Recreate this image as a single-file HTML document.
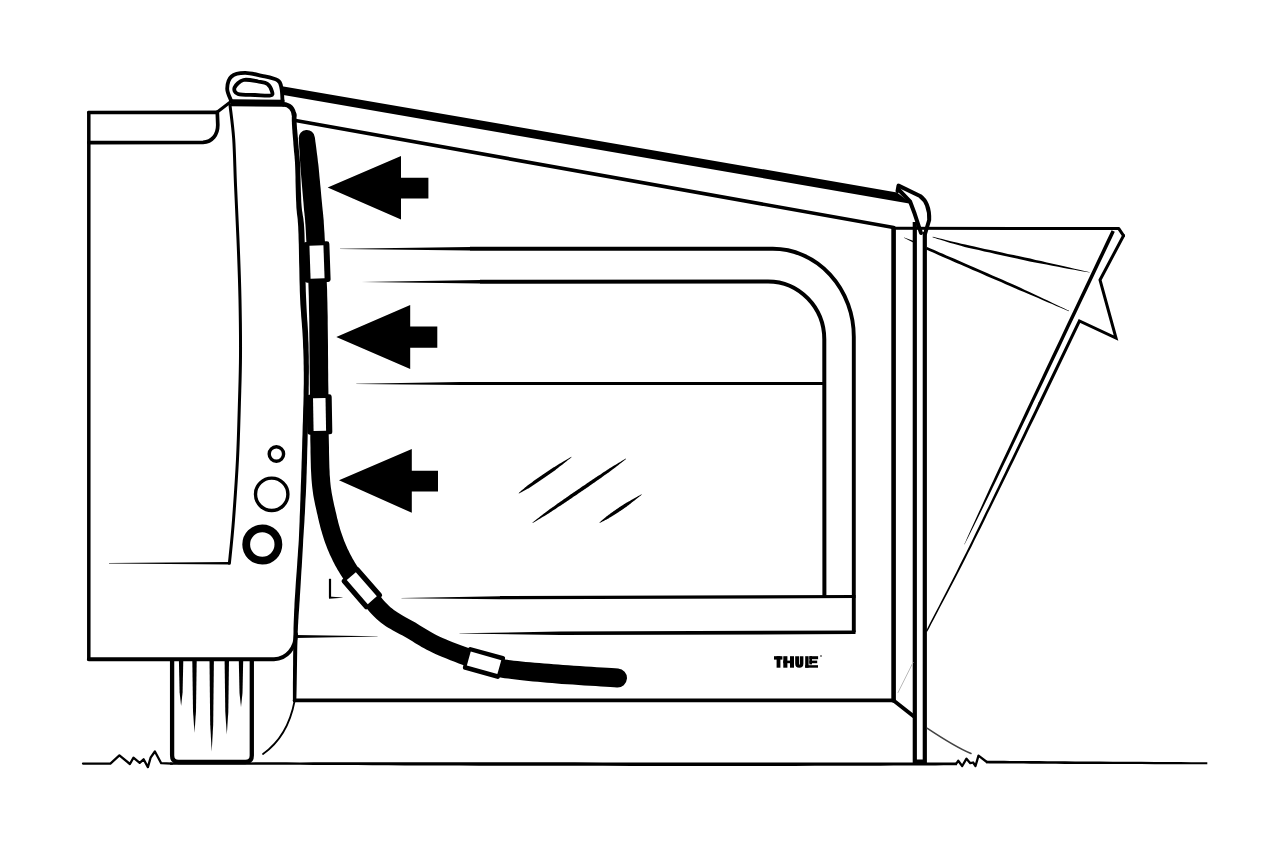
<!DOCTYPE html><html><head><meta charset="utf-8"><style>html,body{margin:0;padding:0;background:#fff;}svg{display:block;}</style></head><body><svg width="1280" height="846" viewBox="0 0 1280 846"><rect width="1280" height="846" fill="#fff"/><g fill="none" stroke="#000" stroke-linecap="round" stroke-linejoin="round"><path d="M88.8 112.5 L88.8 659.2" stroke-width="3.5"/>
<path d="M88.8 112.5 L217.3 112.3" stroke-width="3.7"/>
<path d="M88.8 142.6 L203 142.4 C212 142 217.8 135 217.8 125 L217.3 112.3" stroke-width="3.7"/>
<path d="M217.3 112 L231 101.5" stroke-width="3"/>
<path d="M231 102.7 L284.4 103.3" stroke-width="7" stroke-linecap="butt"/>
<path d="M283 104.2 Q293.2 104.8 294.2 116" stroke-width="4.5"/>
<path d="M291.9 114 L291.9 114.5 L291.9 115 L291.9 115.6 L291.9 116.3 L291.8 117.1 L291.8 117.9 L291.8 118.9 L291.8 119.9 L291.8 121.1 L291.9 122.3 L291.9 123.7 L292 125.1 L292.1 126.8 L292.2 128.7 L292.4 130.7 L292.5 132.9 L292.7 135.1 L292.9 137.5 L293.1 139.8 L293.3 142.1 L293.4 144.3 L293.6 146.5 L293.8 148.4 L293.9 150.2 L294 151.7 L294.2 153 L294.3 154.1 L294.4 155.1 L294.5 156 L294.6 156.8 L294.6 157.7 L294.7 158.7 L294.8 159.9 L294.9 161.3 L295 163 L295.1 165.1 L295.2 167.6 L295.3 170.5 L295.4 173.7 L295.5 177.1 L295.5 180.7 L295.6 184.4 L295.7 188.2 L295.8 191.9 L295.9 195.6 L296 199 L296.2 202.2 L296.3 205.2 L296.4 207.7 L296.6 209.8 L296.8 211.7 L296.9 213.3 L297.1 214.8 L297.3 216.3 L297.5 217.8 L297.7 219.5 L297.8 221.5 L298 223.9 L298.2 226.7 L298.3 230.1 L298.5 234.2 L298.6 239 L298.8 244.2 L298.9 249.8 L299 255.8 L299.1 261.9 L299.3 268 L299.4 274.2 L299.5 280.2 L299.7 285.9 L299.8 291.2 L300 296.1 L300.2 300.6 L300.4 304.8 L300.7 308.8 L301 312.6 L301.2 316.3 L301.5 319.8 L301.8 323.3 L302 326.6 L302.3 330 L302.5 333.3 L302.7 336.7 L302.9 340.1 L303 343.5 L303.1 346.9 L303.3 350.1 L303.4 353.3 L303.5 356.5 L303.6 359.7 L303.6 362.9 L303.7 366.1 L303.7 369.4 L303.8 372.8 L303.8 376.3 L303.8 380 L303.8 383.8 L303.7 387.7 L303.6 391.6 L303.6 395.7 L303.5 399.8 L303.4 403.9 L303.2 408.2 L303.1 412.4 L303 416.8 L302.9 421.1 L302.7 425.5 L302.6 429.9 L302.5 434.4 L302.3 438.9 L302.2 443.6 L302.1 448.2 L301.9 452.9 L301.8 457.7 L301.6 462.4 L301.5 467.2 L301.3 471.9 L301.2 476.6 L301 481.3 L300.8 485.9 L300.7 490.4 L300.5 494.9 L300.4 499.4 L300.2 503.8 L300.1 508.2 L299.9 512.6 L299.7 517.1 L299.6 521.5 L299.4 526 L299.2 530.6 L299 535.2 L298.8 539.9 L298.5 544.7 L298.1 549.8 L297.8 555 L297.4 560.3 L297.1 565.6 L296.7 571 L296.3 576.2 L295.9 581.4 L295.6 586.4 L295.3 591.2 L295 595.7 L294.7 599.9 L294.5 603.6 L294.4 606.9 L294.2 609.9 L294.1 612.6 L294 615.1 L293.9 617.6 L293.8 620.1 L293.7 622.6 L293.6 625.4 L293.5 628.5 L293.5 632 L293.4 635.9 L293.3 640.6 L293.3 645.9 L293.2 651.7 L293.1 657.9 L293.1 664.3 L293 670.7 L293 677 L292.9 683.1 L292.9 688.6 L292.9 693.6 L292.9 697.7 L292.9 701 A1.8 1.8 0 0 0 296.3 701 L296.3 701 L296.4 697.8 L296.5 693.6 L296.6 688.7 L296.7 683.1 L296.8 677.1 L296.9 670.8 L297 664.3 L297.1 658 L297.2 651.8 L297.3 645.9 L297.5 640.7 L297.6 636.1 L297.7 632.1 L297.9 628.7 L298 625.6 L298.2 622.8 L298.3 620.3 L298.5 617.8 L298.6 615.4 L298.8 612.8 L299 610.2 L299.2 607.2 L299.4 603.9 L299.7 600.1 L299.9 596 L300.2 591.5 L300.5 586.7 L300.8 581.7 L301.1 576.6 L301.4 571.3 L301.8 565.9 L302.1 560.6 L302.4 555.3 L302.7 550.1 L303 545 L303.2 540.1 L303.5 535.4 L303.8 530.8 L304.1 526.2 L304.4 521.7 L304.6 517.3 L304.9 512.9 L305.1 508.4 L305.3 504 L305.5 499.6 L305.8 495.2 L306 490.7 L306.2 486.1 L306.4 481.5 L306.5 476.8 L306.7 472.1 L306.8 467.3 L307 462.6 L307.1 457.8 L307.2 453.1 L307.3 448.4 L307.5 443.7 L307.6 439.1 L307.7 434.5 L307.8 430.1 L307.9 425.7 L308 421.3 L308.1 416.9 L308.2 412.6 L308.3 408.3 L308.4 404.1 L308.5 399.9 L308.6 395.8 L308.7 391.7 L308.7 387.7 L308.8 383.8 L308.8 380 L308.8 376.3 L308.9 372.8 L308.9 369.4 L308.9 366 L308.8 362.8 L308.8 359.6 L308.8 356.4 L308.7 353.2 L308.6 350 L308.6 346.7 L308.5 343.3 L308.3 339.9 L308.2 336.4 L308.1 333 L307.9 329.6 L307.7 326.3 L307.5 322.9 L307.2 319.4 L307 315.9 L306.8 312.3 L306.6 308.5 L306.4 304.5 L306.2 300.3 L306 295.9 L305.8 291 L305.7 285.7 L305.5 280 L305.4 274 L305.3 267.9 L305.1 261.8 L305 255.6 L304.9 249.7 L304.8 244.1 L304.6 238.8 L304.5 234 L304.3 229.9 L304.1 226.4 L303.9 223.4 L303.6 220.9 L303.4 218.9 L303.1 217.1 L302.8 215.5 L302.6 214 L302.4 212.6 L302.1 211 L301.9 209.3 L301.7 207.3 L301.5 204.8 L301.3 202 L301.2 198.8 L301.1 195.4 L300.9 191.8 L300.8 188.1 L300.7 184.3 L300.6 180.6 L300.5 177 L300.4 173.5 L300.3 170.3 L300.2 167.4 L300.1 164.9 L300 162.8 L299.9 161 L299.8 159.6 L299.7 158.3 L299.6 157.3 L299.5 156.3 L299.4 155.4 L299.3 154.5 L299.2 153.6 L299.1 152.5 L299 151.3 L298.9 149.8 L298.7 148 L298.6 146 L298.4 143.9 L298.2 141.7 L298 139.4 L297.8 137 L297.6 134.7 L297.4 132.5 L297.2 130.3 L297 128.3 L296.9 126.5 L296.8 124.9 L296.7 123.4 L296.6 122.1 L296.6 120.9 L296.6 119.8 L296.5 118.8 L296.5 117.9 L296.5 117.1 L296.5 116.4 L296.5 115.7 L296.5 115.1 L296.5 114.5 L296.5 114 A2.3 2.3 0 0 0 291.9 114Z" fill="#000" stroke="none"/>
<path d="M230 105 C230.6 110.7 232.8 125.7 233.7 139 C234.6 152.3 234.8 168.2 235.5 185 C236.2 201.8 237.2 220.8 238 240 C238.8 259.2 239.6 280.7 240 300 C240.4 319.3 240.6 339.3 240.5 356 C240.4 372.7 240 382.8 239.5 400 C239 417.2 238.5 439 237.5 459 C236.5 479 234.8 502.6 233.5 520 C232.2 537.4 230.1 556.1 229.4 563.3" stroke-width="3"/>
<polygon points="109,563.4 229.4,564.6 229.4,562 109,563.1" fill="#000" stroke="none"/>
<path d="M88.8 659.2 L274 659.2 C287 659 295.5 648 296 634" stroke-width="3.9"/>
<path d="M231 100.5 C230.4 98.5 227.1 92.5 227.2 88.5 C227.3 84.5 228.5 79.1 231.5 76.5 C234.5 73.9 239.9 73 245 72.9 C250.1 72.8 256.5 74.6 262 75.8 C267.5 77 274.6 78.2 277.8 80.3 C281.1 82.4 280.7 85 281.5 88.5 C282.3 92 282.3 98.9 282.5 101" stroke-width="3.8"/>
<path d="M238 94 C234.6 92.8 233.7 89.8 234.6 87.5 C235.5 85.2 239.6 81 243.5 80 C247.4 79 254 80.8 258 81.5 C262 82.2 265.2 82.3 267.5 84 C269.8 85.7 271.5 89.6 272 91.5 C272.5 93.4 273.3 94.9 270.5 95.5 C267.7 96.1 260.4 95.2 255 95 C249.6 94.8 241.4 95.2 238 94Z" stroke-width="3.8"/>
<polygon points="282,86.2 897,192.4 912,204 282,94.8" fill="#000" stroke="none"/>
<path d="M295.5 120.5 L893.6 227.6" stroke-width="3.6"/>
<path d="M897.5 191 L898.5 185.6 L920 196 C927 201 929.5 210 929.2 220 L925 234" stroke-width="4" stroke-linejoin="round"/>
<path d="M899 190 L910 201.3 L914.7 213.8 L921 233" stroke-width="4"/>
<path d="M893.6 228.2 L1118.8 228.6 L1123.5 235.7" stroke-width="3"/>
<path d="M893.6 228.2 L893.6 700.4" stroke-width="4.6"/>
<path d="M914.8 222 L914.8 761.6 L924.8 761.6 L924.8 232" stroke-width="4.2" stroke-linejoin="miter" stroke-linecap="butt"/>
<polygon points="903.9,237.8 913.2,242.5 913.8,241.1 904.1,237.6" fill="#000" stroke="none"/>
<polygon points="340,249 470,250.5 470,247.1 340,248.7" fill="#000" stroke="none"/>
<path d="M470 248.8 L772.8 248.8 A81 88 0 0 1 853.8 336.8 L853.8 632.3" stroke-width="3.9" stroke-linejoin="miter" stroke-linecap="butt"/>
<polygon points="361.4,282.1 480,283.4 480,280 361.4,281.9" fill="#000" stroke="none"/>
<path d="M480 281.7 L768 281.4 A56.3 58 0 0 1 824.3 339.4 L824.4 596.5" stroke-width="4" stroke-linecap="butt"/>
<polygon points="356.3,383.9 460,385.1 460,382.1 356.3,383.7" fill="#000" stroke="none"/>
<path d="M460 383.6 L824.4 383.4" stroke-width="3" stroke-linecap="butt"/>
<polygon points="401.5,598.3 500,599.2 500,596.2 401.5,598.1" fill="#000" stroke="none"/>
<path d="M500 597.7 L855.5 596.5" stroke-width="3.2" stroke-linecap="butt"/>
<polygon points="459.5,633.5 560,634.9 560,631.5 459.5,633.3" fill="#000" stroke="none"/>
<path d="M560 633.2 L855.5 632.3" stroke-width="3.6" stroke-linecap="butt"/>
<path d="M330 578.8 L330 597.6" stroke-width="2.2" stroke-linecap="butt"/>
<polygon points="329,598.7 342.6,597.8 342.6,597.4 329,596.5" fill="#000" stroke="none"/>
<path d="M294.6 700.4 L893.6 700.4 L913.3 716" stroke-width="3.8"/>
<polygon points="295.5,637.9 377.6,636.5 377.6,636.2 295.5,634.9" fill="#000" stroke="none"/>
<path d="M294.6 701 C290 725 280 742 263 754" stroke-width="1.8"/>
<path d="M927.4 728.3 C945 740 958 748 971 753.5" stroke-width="1.6" stroke="#444"/>
<path d="M913 662.5 L898 692.6" stroke-width="1" stroke="#bbb"/>
<path d="M83 763.6 L110.4 763.6 L119.4 755.4 L129.9 764 L133.4 757.7 L139.7 762.8 L143.6 759.3 L147.9 767.1 L150.6 757.7 L154.9 751.5 L161.2 763.2 L172 763.6" stroke-width="2.3"/>
<path d="M170 764.7 L176.1 764.8 L183.3 764.8 L191.7 764.8 L201.1 764.8 L211.4 764.8 L222.5 764.8 L234.3 764.8 L246.7 764.8 L259.5 764.8 L272.8 764.8 L286.3 764.8 L300 764.8 L313.8 764.9 L327.9 765 L342.4 765.1 L357.2 765.1 L372.5 765.2 L388.4 765.3 L405 765.4 L422.2 765.5 L440.3 765.6 L459.2 765.6 L479.1 765.7 L500 765.8 L522.8 765.8 L547.8 765.8 L574.7 765.8 L602.9 765.8 L631.9 765.9 L661.1 765.9 L690.2 765.9 L718.6 765.9 L745.7 765.9 L771.2 765.9 L794.4 765.9 L815 765.8 L833.3 765.8 L850.3 765.8 L866 765.7 L880.4 765.7 L893.6 765.6 L905.7 765.5 L916.7 765.5 L926.6 765.4 L935.5 765.4 L943.6 765.3 L950.7 765.2 L957 765.2 L957 762.6 L950.7 762.6 L943.5 762.6 L935.5 762.6 L926.6 762.6 L916.7 762.6 L905.7 762.6 L893.6 762.6 L880.4 762.6 L866 762.6 L850.3 762.6 L833.3 762.6 L815 762.6 L794.4 762.5 L771.2 762.5 L745.7 762.5 L718.6 762.5 L690.2 762.4 L661.1 762.4 L631.9 762.4 L602.9 762.4 L574.7 762.3 L547.8 762.3 L522.8 762.2 L500 762.2 L479.1 762.2 L459.2 762.2 L440.3 762.2 L422.2 762.3 L405 762.3 L388.4 762.3 L372.6 762.3 L357.2 762.3 L342.4 762.3 L328 762.3 L313.9 762.3 L300 762.4 L286.3 762.3 L272.8 762.3 L259.5 762.3 L246.7 762.4 L234.3 762.4 L222.5 762.4 L211.4 762.4 L201.1 762.4 L191.7 762.4 L183.3 762.4 L176.1 762.4 L170 762.5Z" fill="#000" stroke="none"/>
<path d="M956.1 763.9 L958.2 760.8 L962.2 766 L966.5 758.7 L970.3 763.2 L973.1 762.5 L975.5 766 L978.5 755.6 L986.8 762" stroke-width="2.3"/>
<path d="M986 763.3 L989.6 763.4 L993.9 763.4 L998.7 763.4 L1004.1 763.5 L1010.1 763.5 L1016.6 763.6 L1023.6 763.6 L1031 763.7 L1038.9 763.7 L1047.2 763.8 L1055.9 763.8 L1065 763.9 L1075.1 763.9 L1086.7 764 L1099.5 764 L1113 764.1 L1127 764.1 L1141.1 764.1 L1154.9 764.2 L1168.1 764.2 L1180.2 764.2 L1191.1 764.3 L1200.2 764.3 L1207.3 764.3 L1207.3 762.3 L1200.2 762.2 L1191.1 762.2 L1180.3 762.1 L1168.1 762 L1154.9 761.9 L1141.1 761.8 L1127 761.7 L1113 761.7 L1099.5 761.6 L1086.7 761.5 L1075.1 761.4 L1065 761.3 L1056 761.2 L1047.3 761.2 L1039 761.1 L1031.1 761.1 L1023.6 761 L1016.6 760.9 L1010.1 760.9 L1004.1 760.8 L998.7 760.8 L993.9 760.7 L989.6 760.7 L986 760.7Z" fill="#000" stroke="none"/>
<path d="M172.1 661 L172.1 755.5 Q172.1 762 178.5 762 L245.4 762 Q251.8 762 251.8 755.5 L251.8 661" stroke-width="4.3" stroke-linecap="butt"/>
<polygon points="178.9,660 183.3,660 182.6,692.2 181.1,706 179.6,692.2" fill="#000" stroke="none"/>
<polygon points="192.3,660 196.7,660 196,711 194.5,732.8 193,711" fill="#000" stroke="none"/>
<polygon points="209.5,660 213.9,660 213.2,724.2 211.7,751.7 210.2,724.2" fill="#000" stroke="none"/>
<polygon points="224.6,660 229,660 228.3,712.1 226.8,734.5 225.3,712.1" fill="#000" stroke="none"/>
<polygon points="238.8,660 243.2,660 242.5,692.9 241,707 239.5,692.9" fill="#000" stroke="none"/>
<circle cx="276.4" cy="454" r="7.2" stroke-width="3.4"/>
<circle cx="271.7" cy="494.3" r="16.2" stroke-width="3.4"/>
<circle cx="262.3" cy="544.5" r="16.1" stroke-width="7.8"/>
<polygon points="327.7,187.5 401,156 401,177.7 428.4,177.7 428.4,198.4 401,198.4 401,219.5" fill="#000" stroke="none"/>
<polygon points="336.3,337 410.2,305 410.2,326.4 437.3,326.4 437.3,347.7 410.2,347.7 410.2,369" fill="#000" stroke="none"/>
<polygon points="339,480.2 411.8,448.9 411.8,470.7 438,470.7 438,491.5 411.8,491.5 411.8,512.8" fill="#000" stroke="none"/>
<path d="M298.8 138.7 L298.9 140 L298.9 141.5 L299 143.3 L299.1 145.3 L299.2 147.5 L299.4 149.8 L299.5 152.3 L299.7 154.8 L299.8 157.5 L300 160.2 L300.2 163 L300.3 165.8 L300.6 168.7 L300.8 171.9 L301.1 175.3 L301.4 178.7 L301.7 182.3 L302 185.9 L302.3 189.6 L302.6 193.1 L302.9 196.6 L303.2 199.9 L303.5 203 L303.7 205.8 L303.9 208.3 L304.1 210.5 L304.3 212.3 L304.5 213.9 L304.6 215.4 L304.8 216.8 L304.9 218.3 L305.1 219.9 L305.2 221.9 L305.4 224.2 L305.6 227.1 L305.8 230.5 L306 234.5 L306.2 238.9 L306.5 243.7 L306.8 248.8 L307 254.2 L307.3 259.8 L307.6 265.6 L307.9 271.5 L308.1 277.6 L308.4 283.8 L308.6 290 L308.8 296.2 L308.9 302.7 L309 309.5 L309.2 316.5 L309.3 323.9 L309.3 331.3 L309.4 338.8 L309.5 346.2 L309.5 353.6 L309.6 360.7 L309.6 367.5 L309.7 374 L309.8 380.1 L309.8 385.7 L309.9 391 L309.9 396 L309.9 400.8 L309.9 405.4 L310 409.9 L310 414.2 L310 418.4 L310.1 422.6 L310.1 426.8 L310.2 430.9 L310.3 435.2 L310.3 439.4 L310.4 443.6 L310.5 447.8 L310.5 452 L310.6 456.1 L310.7 460.2 L310.8 464.2 L310.9 468.2 L311.1 472 L311.3 475.7 L311.5 479.3 L311.8 482.8 L312.1 486.1 L312.5 489.3 L312.9 492.3 L313.3 495.2 L313.8 497.9 L314.3 500.5 L314.8 503.1 L315.3 505.5 L315.9 507.9 L316.4 510.3 L316.9 512.7 L317.5 515 L318 517.5 L318.6 519.9 L319.1 522.2 L319.7 524.6 L320.3 527 L320.9 529.3 L321.6 531.6 L322.3 533.9 L323 536.2 L323.7 538.6 L324.5 540.9 L325.3 543.2 L326.2 545.5 L327 547.7 L327.9 550 L328.9 552.2 L329.8 554.4 L330.8 556.6 L331.9 558.8 L332.9 561 L334.1 563.2 L335.2 565.4 L336.4 567.5 L337.6 569.7 L338.9 571.8 L340.2 573.9 L341.5 575.9 L342.8 577.9 L344.2 579.9 L345.6 581.9 L347.1 583.8 L348.5 585.8 L350 587.7 L351.6 589.7 L353.1 591.7 L354.7 593.7 L356.4 595.8 L358.1 597.9 L359.9 600.2 L361.7 602.5 L363.6 604.9 L365.6 607.2 L367.6 609.6 L369.7 612 L371.8 614.3 L374 616.6 L376.3 618.7 L378.6 620.8 L381 622.7 L383.4 624.5 L385.8 626.2 L388.2 627.7 L390.6 629.1 L393 630.5 L395.3 631.7 L397.6 633 L399.9 634.2 L402.1 635.3 L404.3 636.5 L406.5 637.8 L408.6 639 L410.7 640.3 L412.8 641.6 L414.9 642.9 L417.1 644.2 L419.3 645.6 L421.6 646.9 L424.1 648.3 L426.7 649.7 L429.4 651.1 L432.3 652.5 L435.4 654 L438.8 655.5 L442.5 657 L446.4 658.6 L450.4 660.2 L454.6 661.8 L458.8 663.4 L463 665 L467.1 666.5 L471 667.9 L474.7 669.2 L478.1 670.4 L481 671.5 L483.5 672.4 L485.6 673.1 L487.3 673.8 L488.9 674.4 L490.4 675 L491.9 675.5 L493.5 676 L495.3 676.4 L497.2 676.8 L499.3 677.3 L501.8 677.7 L504.7 678.2 L508 678.6 L511.7 679.1 L515.6 679.6 L519.7 680.1 L524 680.5 L528.5 681 L533.1 681.4 L537.8 681.8 L542.5 682.2 L547.3 682.7 L552.1 683.1 L556.7 683.5 L561.7 683.9 L567 684.2 L572.7 684.6 L578.5 685 L584.3 685.4 L590.1 685.8 L595.7 686.1 L601 686.5 L605.9 686.8 L610.3 687.1 L614 687.3 L616.9 687.5 A9.5 9.5 0 0 0 618.1 668.5 L618.1 668.5 L615.2 668.3 L611.5 668.1 L607.1 667.8 L602.2 667.5 L596.9 667.2 L591.3 666.8 L585.6 666.5 L579.7 666.1 L574 665.7 L568.4 665.3 L563.1 664.9 L558.3 664.5 L553.6 664.2 L548.9 663.8 L544.1 663.4 L539.4 663.1 L534.8 662.7 L530.2 662.3 L525.8 661.9 L521.6 661.5 L517.6 661.1 L513.9 660.7 L510.5 660.3 L507.3 659.8 L504.7 659.5 L502.5 659.1 L500.7 658.8 L499.4 658.5 L498.3 658.3 L497.3 658 L496.2 657.7 L495 657.3 L493.5 656.8 L491.7 656.1 L489.6 655.4 L487 654.5 L483.9 653.5 L480.6 652.3 L477 651.1 L473.1 649.7 L469.1 648.3 L465 646.8 L460.8 645.3 L456.8 643.7 L452.8 642.2 L449.1 640.8 L445.7 639.3 L442.6 638 L439.8 636.7 L437.2 635.5 L434.8 634.2 L432.6 633 L430.4 631.8 L428.3 630.5 L426.2 629.3 L424.1 628 L422 626.7 L419.9 625.4 L417.6 624 L415.3 622.6 L412.9 621.3 L410.6 619.9 L408.3 618.7 L406 617.4 L403.8 616.2 L401.7 615 L399.7 613.8 L397.7 612.6 L395.8 611.3 L393.9 610 L392.1 608.6 L390.4 607.2 L388.6 605.6 L386.9 603.8 L385.1 601.9 L383.3 599.9 L381.5 597.8 L379.7 595.6 L377.9 593.4 L376.1 591.1 L374.3 588.9 L372.6 586.6 L370.9 584.4 L369.3 582.3 L367.7 580.3 L366.1 578.3 L364.7 576.4 L363.3 574.6 L361.9 572.8 L360.6 571 L359.3 569.2 L358.1 567.5 L356.9 565.7 L355.8 564 L354.7 562.2 L353.6 560.3 L352.5 558.5 L351.5 556.6 L350.5 554.7 L349.5 552.8 L348.6 550.8 L347.6 548.9 L346.8 546.9 L345.9 544.9 L345.1 542.9 L344.2 540.9 L343.5 538.9 L342.7 536.8 L342 534.8 L341.3 532.8 L340.6 530.7 L340 528.7 L339.4 526.6 L338.8 524.5 L338.2 522.3 L337.7 520.1 L337.1 517.9 L336.6 515.6 L336.1 513.3 L335.5 511 L335 508.6 L334.4 506.2 L333.9 503.9 L333.4 501.6 L332.9 499.3 L332.5 497 L332 494.6 L331.6 492.2 L331.2 489.6 L330.8 487 L330.5 484.2 L330.2 481.2 L330 478 L329.7 474.7 L329.6 471.1 L329.4 467.5 L329.3 463.7 L329.2 459.8 L329.1 455.8 L329 451.7 L329 447.5 L328.9 443.3 L328.8 439.1 L328.7 434.8 L328.7 430.6 L328.6 426.5 L328.6 422.4 L328.5 418.3 L328.5 414.1 L328.5 409.8 L328.4 405.3 L328.4 400.7 L328.4 395.9 L328.4 390.9 L328.3 385.5 L328.2 379.9 L328.2 373.9 L328.1 367.4 L328.1 360.5 L328 353.4 L328 346.1 L327.9 338.6 L327.8 331.1 L327.7 323.6 L327.7 316.3 L327.5 309.1 L327.4 302.3 L327.2 295.8 L327.1 289.4 L326.8 283.2 L326.6 276.9 L326.4 270.7 L326.1 264.7 L325.8 258.9 L325.5 253.2 L325.2 247.8 L325 242.7 L324.7 237.9 L324.5 233.5 L324.2 229.5 L324 226 L323.8 223 L323.7 220.5 L323.5 218.4 L323.3 216.6 L323.2 215 L323 213.4 L322.9 211.9 L322.7 210.4 L322.5 208.6 L322.3 206.6 L322.1 204.2 L321.8 201.3 L321.5 198.2 L321.2 194.9 L320.9 191.5 L320.6 187.9 L320.2 184.3 L319.9 180.7 L319.5 177.1 L319.2 173.6 L318.9 170.3 L318.6 167.1 L318.3 164.2 L317.9 161.4 L317.6 158.6 L317.3 155.9 L316.9 153.2 L316.6 150.7 L316.3 148.2 L316 145.9 L315.7 143.7 L315.4 141.8 L315.2 140 L315 138.5 L314.8 137.3 A8 8 0 0 0 298.8 138.7Z" fill="#000" stroke="none"/>
<g transform="translate(317 262) rotate(-2)"><rect x="-13" y="-20.3" width="26" height="40.6" rx="2.5" fill="#000" stroke="none"/><rect x="-7" y="-16.5" width="14" height="33" fill="#fff" stroke="none"/></g>
<g transform="translate(319.5 414.5) rotate(-1)"><rect x="-12.5" y="-20" width="25" height="40" rx="2.5" fill="#000" stroke="none"/><rect x="-6.2" y="-16.3" width="12.5" height="32.6" fill="#fff" stroke="none"/></g>
<g transform="translate(361.8 588.2) rotate(-41)"><rect x="-11.2" y="-19.5" width="22.5" height="39" rx="2.5" fill="#000" stroke="none"/><rect x="-6" y="-16" width="12" height="32" fill="#fff" stroke="none"/></g>
<g transform="translate(484 662.9) rotate(-74.4)"><rect x="-11.8" y="-19.2" width="23.5" height="38.4" rx="2.5" fill="#000" stroke="none"/><rect x="-7.2" y="-15.8" width="14.5" height="31.7" fill="#fff" stroke="none"/></g>
<path d="M518.9 493.5 L519.4 493.3 L520 493 L520.7 492.6 L521.4 492.2 L522.2 491.8 L523.1 491.3 L524 490.8 L524.9 490.3 L525.8 489.8 L526.7 489.3 L527.5 488.8 L528.4 488.4 L529.1 487.9 L529.9 487.4 L530.6 487 L531.4 486.5 L532.1 486 L532.8 485.5 L533.6 485 L534.3 484.6 L535.1 484.1 L535.8 483.6 L536.6 483.1 L537.3 482.6 L538.1 482.1 L538.8 481.6 L539.5 481.1 L540.3 480.6 L541 480.1 L541.7 479.6 L542.5 479.1 L543.2 478.6 L543.9 478.1 L544.7 477.6 L545.4 477.1 L546.1 476.6 L546.8 476.1 L547.6 475.6 L548.3 475.1 L549 474.6 L549.7 474 L550.4 473.5 L551.2 473 L551.9 472.5 L552.6 472 L553.3 471.5 L554.1 470.9 L554.8 470.4 L555.5 469.9 L556.2 469.3 L556.9 468.8 L557.6 468.2 L558.3 467.7 L559 467.1 L559.7 466.6 L560.4 466.1 L561.1 465.5 L561.8 465 L562.5 464.4 L563.2 463.9 L563.9 463.3 L564.7 462.7 L565.5 462.1 L566.3 461.4 L567.1 460.8 L567.9 460.1 L568.7 459.5 L569.4 459 L570.1 458.4 L570.6 457.9 L571.1 457.5 L571.5 457.2 L571.3 456.8 L570.8 457.1 L570.3 457.4 L569.6 457.8 L568.9 458.2 L568.1 458.7 L567.2 459.2 L566.4 459.7 L565.5 460.2 L564.6 460.7 L563.7 461.3 L562.9 461.8 L562.1 462.2 L561.3 462.7 L560.5 463.2 L559.8 463.6 L559 464.1 L558.3 464.5 L557.5 465 L556.8 465.5 L556 465.9 L555.2 466.4 L554.5 466.9 L553.7 467.3 L553 467.8 L552.2 468.3 L551.5 468.8 L550.7 469.3 L550 469.7 L549.3 470.2 L548.5 470.7 L547.8 471.2 L547 471.7 L546.3 472.2 L545.6 472.7 L544.8 473.2 L544.1 473.7 L543.3 474.2 L542.6 474.7 L541.9 475.2 L541.2 475.7 L540.4 476.2 L539.7 476.7 L539 477.2 L538.3 477.7 L537.5 478.2 L536.8 478.7 L536.1 479.3 L535.3 479.8 L534.6 480.3 L533.9 480.8 L533.2 481.3 L532.5 481.9 L531.8 482.4 L531.1 482.9 L530.3 483.5 L529.6 484 L528.9 484.5 L528.2 485 L527.5 485.6 L526.8 486.1 L526.1 486.7 L525.3 487.3 L524.5 488 L523.8 488.7 L523 489.3 L522.2 490 L521.4 490.6 L520.7 491.2 L520.1 491.8 L519.5 492.3 L519.1 492.8 L518.7 493.1Z" fill="#000" stroke="none"/>
<path d="M532.7 522.9 L533.5 522.4 L534.5 521.9 L535.7 521.2 L537 520.4 L538.4 519.6 L539.9 518.7 L541.4 517.8 L543 516.8 L544.5 515.9 L546.1 514.9 L547.6 514 L549 513.2 L550.3 512.3 L551.6 511.5 L552.9 510.6 L554.2 509.7 L555.5 508.9 L556.8 508 L558.1 507.1 L559.4 506.3 L560.8 505.4 L562.1 504.5 L563.4 503.7 L564.7 502.8 L566 501.9 L567.3 501 L568.6 500.2 L569.9 499.3 L571.2 498.4 L572.5 497.5 L573.8 496.6 L575.1 495.8 L576.4 494.9 L577.7 494 L579 493.1 L580.3 492.2 L581.6 491.3 L582.9 490.4 L584.2 489.6 L585.5 488.7 L586.8 487.8 L588.1 486.9 L589.4 486 L590.7 485.1 L591.9 484.2 L593.2 483.3 L594.5 482.4 L595.8 481.5 L597.1 480.6 L598.4 479.7 L599.7 478.8 L601 477.9 L602.2 477 L603.5 476.1 L604.8 475.1 L606.1 474.2 L607.4 473.3 L608.7 472.4 L609.9 471.5 L611.2 470.6 L612.5 469.6 L613.9 468.5 L615.3 467.4 L616.8 466.3 L618.2 465.2 L619.6 464.1 L621 463.1 L622.3 462.1 L623.5 461.1 L624.5 460.3 L625.4 459.6 L626.1 459 L625.9 458.6 L625.1 459.1 L624.1 459.6 L622.9 460.3 L621.6 461.1 L620.2 461.9 L618.7 462.8 L617.2 463.7 L615.6 464.7 L614.1 465.6 L612.5 466.6 L611 467.5 L609.6 468.3 L608.3 469.2 L607 470 L605.7 470.9 L604.4 471.8 L603.1 472.6 L601.8 473.5 L600.5 474.4 L599.2 475.2 L597.8 476.1 L596.5 477 L595.2 477.8 L593.9 478.7 L592.6 479.6 L591.3 480.5 L590 481.3 L588.7 482.2 L587.4 483.1 L586.1 484 L584.8 484.9 L583.5 485.7 L582.2 486.6 L580.9 487.5 L579.6 488.4 L578.3 489.3 L577 490.2 L575.7 491.1 L574.4 491.9 L573.1 492.8 L571.8 493.7 L570.5 494.6 L569.2 495.5 L567.9 496.4 L566.7 497.3 L565.4 498.2 L564.1 499.1 L562.8 500 L561.5 500.9 L560.2 501.8 L558.9 502.7 L557.6 503.6 L556.4 504.5 L555.1 505.4 L553.8 506.4 L552.5 507.3 L551.2 508.2 L549.9 509.1 L548.7 510 L547.4 510.9 L546.1 511.9 L544.7 513 L543.3 514.1 L541.8 515.2 L540.4 516.3 L539 517.4 L537.6 518.4 L536.3 519.4 L535.1 520.4 L534.1 521.2 L533.2 521.9 L532.5 522.5Z" fill="#000" stroke="none"/>
<path d="M599.7 522.9 L600.1 522.7 L600.6 522.5 L601.1 522.2 L601.7 522 L602.4 521.6 L603.1 521.3 L603.8 520.9 L604.5 520.5 L605.3 520.1 L606 519.8 L606.7 519.4 L607.3 519.1 L607.9 518.7 L608.5 518.4 L609.1 518 L609.7 517.6 L610.3 517.3 L610.9 516.9 L611.5 516.5 L612.1 516.2 L612.7 515.8 L613.3 515.4 L613.9 515.1 L614.5 514.7 L615.1 514.3 L615.7 513.9 L616.3 513.6 L616.9 513.2 L617.5 512.8 L618.1 512.4 L618.7 512 L619.3 511.6 L619.8 511.2 L620.4 510.9 L621 510.5 L621.6 510.1 L622.2 509.7 L622.8 509.3 L623.3 508.9 L623.9 508.5 L624.5 508.1 L625 507.7 L625.6 507.3 L626.2 506.9 L626.8 506.4 L627.3 506 L627.9 505.6 L628.5 505.2 L629 504.8 L629.6 504.3 L630.1 503.9 L630.7 503.5 L631.2 503 L631.8 502.6 L632.3 502.1 L632.9 501.7 L633.4 501.3 L634 500.8 L634.6 500.4 L635.1 499.9 L635.7 499.5 L636.3 499 L636.9 498.5 L637.6 498 L638.2 497.5 L638.8 497 L639.5 496.5 L640 496.1 L640.6 495.7 L641 495.3 L641.4 494.9 L641.7 494.7 L641.5 494.3 L641.1 494.5 L640.7 494.7 L640.1 495 L639.5 495.4 L638.9 495.7 L638.2 496.1 L637.5 496.5 L636.8 496.9 L636.1 497.3 L635.4 497.7 L634.7 498.1 L634.1 498.5 L633.5 498.8 L632.9 499.1 L632.3 499.5 L631.6 499.8 L631 500.2 L630.4 500.5 L629.8 500.9 L629.2 501.2 L628.6 501.5 L627.9 501.9 L627.3 502.2 L626.7 502.6 L626.1 502.9 L625.5 503.3 L624.9 503.7 L624.3 504.1 L623.7 504.5 L623.2 504.8 L622.6 505.2 L622 505.6 L621.4 506 L620.8 506.3 L620.2 506.7 L619.6 507.1 L619 507.5 L618.4 507.9 L617.9 508.3 L617.3 508.7 L616.7 509.1 L616.1 509.5 L615.5 509.9 L615 510.3 L614.4 510.7 L613.8 511.1 L613.2 511.5 L612.7 511.9 L612.1 512.3 L611.5 512.7 L611 513.1 L610.4 513.6 L609.8 514 L609.3 514.4 L608.7 514.8 L608.1 515.2 L607.6 515.7 L607 516.1 L606.4 516.5 L605.9 516.9 L605.3 517.4 L604.7 517.9 L604.1 518.4 L603.5 519 L602.9 519.5 L602.2 520 L601.7 520.5 L601.1 521 L600.6 521.5 L600.1 521.9 L599.8 522.2 L599.5 522.5Z" fill="#000" stroke="none"/>
<path d="M932.5 237.2 L934 237.7 L935.6 238.2 L937.5 238.9 L939.6 239.6 L942 240.3 L944.5 241.1 L947.3 242 L950.4 242.9 L953.6 243.8 L957.1 244.8 L960.8 245.8 L964.7 246.9 L969 247.9 L973.7 249 L978.8 250.1 L984.2 251.4 L989.8 252.6 L995.5 253.9 L1001.4 255.2 L1007.2 256.5 L1013.1 257.7 L1018.8 259 L1024.4 260.2 L1029.7 261.4 L1035.1 262.4 L1040.7 263.5 L1046.5 264.6 L1052.3 265.7 L1058.1 266.8 L1063.8 267.9 L1069.2 268.9 L1074.3 269.8 L1079 270.7 L1083.2 271.5 L1086.8 272.1 L1089.7 272.6 L1089.7 272.2 L1086.9 271.5 L1083.3 270.7 L1079.2 269.7 L1074.5 268.7 L1069.5 267.5 L1064.1 266.3 L1058.5 265 L1052.7 263.8 L1046.9 262.4 L1041.2 261.1 L1035.6 259.9 L1030.3 258.6 L1025 257.5 L1019.4 256.3 L1013.6 255.1 L1007.8 253.9 L1001.9 252.6 L996.1 251.3 L990.3 250.1 L984.7 248.9 L979.4 247.7 L974.3 246.6 L969.6 245.5 L965.3 244.5 L961.3 243.7 L957.6 242.8 L954.1 242 L950.8 241.2 L947.8 240.5 L944.9 239.8 L942.3 239.1 L939.9 238.5 L937.8 238 L935.8 237.5 L934.1 237.1 L932.7 236.8Z" fill="#000" stroke="none"/>
<path d="M926 249.4 L927.8 250.2 L930 251.2 L932.5 252.3 L935.3 253.5 L938.4 254.9 L941.8 256.4 L945.3 257.9 L949 259.5 L952.7 261.2 L956.6 262.9 L960.5 264.6 L964.4 266.3 L968.5 268.1 L972.7 269.9 L977.2 271.8 L981.8 273.8 L986.5 275.9 L991.3 277.9 L996.1 280 L1001 282.1 L1005.7 284.2 L1010.5 286.2 L1015 288.2 L1019.5 290.2 L1024 292.1 L1028.6 294.1 L1033.4 296.1 L1038.2 298.1 L1043 300.2 L1047.6 302.2 L1052.1 304.1 L1056.3 305.9 L1060.1 307.5 L1063.6 309 L1066.5 310.2 L1068.9 311.2 L1069.1 310.8 L1066.8 309.7 L1063.9 308.3 L1060.5 306.7 L1056.8 304.9 L1052.6 302.9 L1048.2 300.8 L1043.7 298.7 L1039 296.4 L1034.2 294.2 L1029.5 292 L1024.9 289.9 L1020.5 287.8 L1016.1 285.8 L1011.5 283.8 L1006.8 281.7 L1002 279.6 L997.2 277.5 L992.4 275.4 L987.6 273.3 L982.9 271.3 L978.3 269.2 L973.8 267.3 L969.6 265.4 L965.6 263.7 L961.7 262 L957.8 260.3 L953.9 258.6 L950.1 257 L946.4 255.4 L942.9 253.8 L939.5 252.4 L936.4 251.1 L933.6 249.8 L931 248.7 L928.8 247.8 L927 247Z" fill="#000" stroke="none"/>
<path d="M1123.5 235.7 L1100 280 L1116 338 L1079.4 321 L1040 403" stroke-width="3" stroke-linejoin="miter"/>
<path d="M1038.6 402.3 L1036.9 406.1 L1034.7 410.7 L1032 416.2 L1029.1 422.3 L1025.9 428.9 L1022.6 436 L1019.1 443.3 L1015.5 450.7 L1011.9 458.2 L1008.3 465.6 L1004.9 472.7 L1001.6 479.4 L998.5 486 L995.3 492.6 L992.1 499.2 L988.9 505.9 L985.6 512.6 L982.4 519.3 L979.1 525.9 L975.9 532.6 L972.7 539.2 L969.5 545.7 L966.3 552.2 L963.1 558.5 L959.8 565.1 L956.4 571.9 L952.8 578.9 L949.2 585.9 L945.6 592.9 L942.1 599.8 L938.7 606.4 L935.5 612.6 L932.5 618.3 L929.9 623.3 L927.7 627.7 L925.9 631.2 L927.1 631.8 L929 628.4 L931.2 624 L933.9 619 L936.9 613.3 L940.1 607.1 L943.6 600.6 L947.2 593.7 L950.8 586.7 L954.5 579.7 L958.1 572.7 L961.6 565.9 L964.9 559.5 L968.1 553.1 L971.4 546.7 L974.6 540.1 L977.9 533.6 L981.2 526.9 L984.5 520.3 L987.7 513.6 L991 507 L994.3 500.3 L997.5 493.7 L1000.8 487.1 L1004 480.6 L1007.3 473.8 L1010.7 466.7 L1014.3 459.4 L1017.9 451.9 L1021.5 444.5 L1025.1 437.2 L1028.5 430.1 L1031.7 423.5 L1034.7 417.4 L1037.3 412 L1039.5 407.4 L1041.4 403.7Z" fill="#000" stroke="none"/>
<path d="M1111.6 230.2 L1108.6 236.4 L1104.9 244.2 L1100.6 253.4 L1095.7 263.7 L1090.4 274.9 L1084.8 286.7 L1079 298.9 L1073.1 311.4 L1067.2 323.8 L1061.5 335.9 L1056 347.4 L1050.9 358.3 L1045.9 368.8 L1040.9 379.5 L1035.7 390.4 L1030.6 401.3 L1025.5 412.1 L1020.5 422.8 L1015.5 433.3 L1010.7 443.5 L1006.1 453.3 L1001.7 462.6 L997.6 471.3 L993.8 479.4 L990.3 487 L987 494.3 L983.8 501.2 L980.9 507.7 L978.1 513.8 L975.5 519.5 L973.1 524.7 L970.9 529.6 L968.9 534 L967.1 537.9 L965.6 541.4 L964.3 544.3 L964.5 544.5 L966 541.6 L967.7 538.2 L969.7 534.3 L971.8 530 L974.2 525.3 L976.8 520.1 L979.5 514.5 L982.5 508.4 L985.7 502 L989 495.2 L992.5 488.1 L996.2 480.6 L1000 472.5 L1004.2 463.8 L1008.7 454.5 L1013.3 444.7 L1018.2 434.6 L1023.2 424.1 L1028.3 413.4 L1033.4 402.6 L1038.6 391.8 L1043.8 380.9 L1048.9 370.2 L1053.9 359.7 L1059.1 348.9 L1064.6 337.3 L1070.3 325.2 L1076.2 312.9 L1082.1 300.4 L1088 288.2 L1093.6 276.4 L1098.9 265.2 L1103.8 254.9 L1108.2 245.8 L1111.9 238 L1114.8 231.8Z" fill="#000" stroke="none"/>
<g fill="#000" stroke="none"><rect x="774" y="656.2" width="8.4" height="3.4"/><rect x="776.6" y="656.2" width="3.8" height="11.5"/><rect x="783.3" y="656.2" width="4.1" height="11.5"/><rect x="790" y="656.2" width="4" height="11.5"/><rect x="783.3" y="660.6" width="10.7" height="2.6"/><path d="M795.2 656.2 H799 V663.5 Q799 664.8 799.4 664.8 Q799.8 664.8 799.8 663.5 V656.2 H803.4 V663.5 Q803.4 667.8 799.3 667.8 Q795.2 667.8 795.2 663.5 Z"/><rect x="805.2" y="656.2" width="3.4" height="11.5"/><rect x="805.2" y="665.2" width="12.8" height="2.5"/><rect x="809.4" y="656.2" width="2.6" height="8.2"/><rect x="809.4" y="656.2" width="8.7" height="3"/><rect x="809.4" y="660.6" width="7.8" height="2.6"/><circle cx="821" cy="656" r="0.8"/></g></g></svg></body></html>
